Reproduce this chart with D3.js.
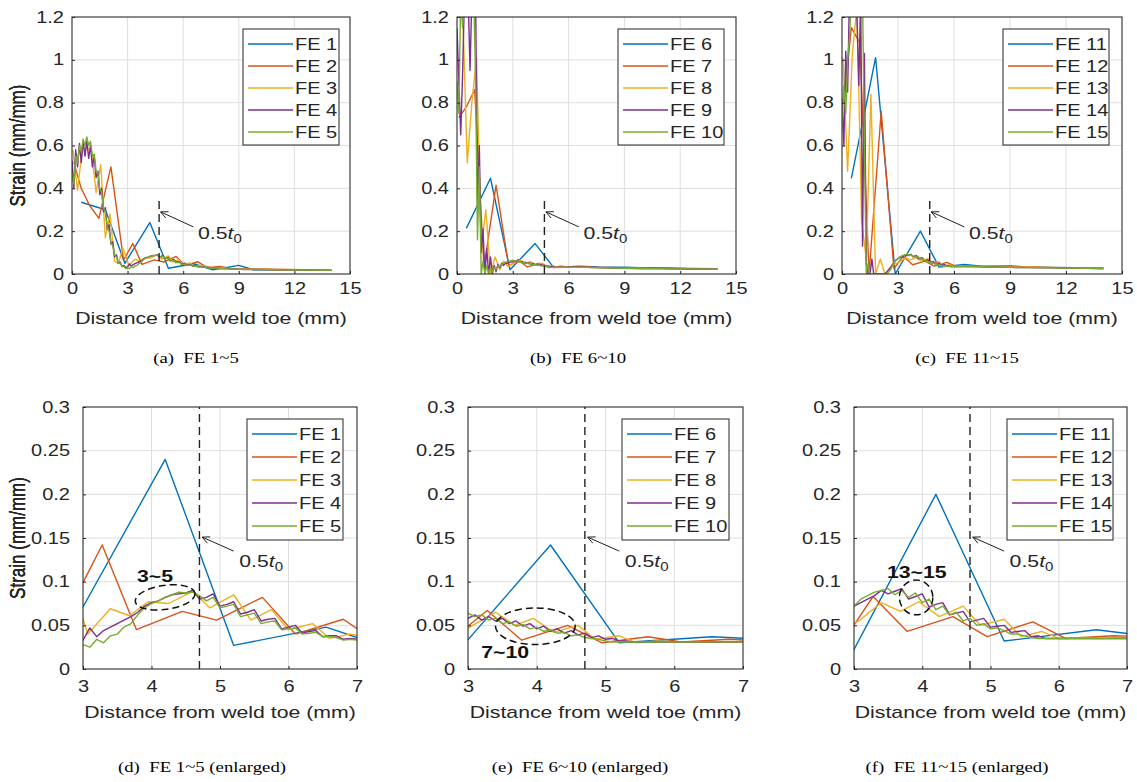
<!DOCTYPE html>
<meta charset="utf-8">
<script src="https://d3js.org/d3.v7.min.js"></script>
<style>
  body { margin: 0; background: #fff; }
  svg text { font-family: Arial, "Liberation Sans", sans-serif; }
</style>
<div id="my_dataviz"></div>
<script>

// ---------------- data ----------------
var feNamesA = ["FE 1", "FE 2", "FE 3", "FE 4", "FE 5"];
var feNamesB = ["FE 6", "FE 7", "FE 8", "FE 9", "FE 10"];
var feNamesC = ["FE 11", "FE 12", "FE 13", "FE 14", "FE 15"];

var xTicksFull = [0, 3, 6, 9, 12, 15];
var yTicksFull = [0, 0.2, 0.4, 0.6, 0.8, 1, 1.2];
var xTicksZoom = [3, 4, 5, 6, 7];
var yTicksZoom = [0, 0.05, 0.1, 0.15, 0.2, 0.25, 0.3];

// node positions (mm) of the four meshes
var meshA = [0.5, 1.8, 2.85, 4.2, 5.2, 6.55, 7.6, 9.0, 9.8, 11.3, 12.5, 14.0];
var meshB = [0.1, 0.5, 0.95, 1.45, 2.1, 2.78, 3.28, 3.78, 4.45, 4.95, 5.62, 6.1, 6.8, 7.3, 8.0, 8.6, 9.5, 10.5, 11.5, 12.5, 14.0];
var meshC = [0.05, 0.3, 0.55, 0.8, 1.05, 1.3, 1.55, 1.8, 2.05, 2.3, 2.5, 2.75, 3.07, 3.4, 3.68,
             3.95, 4.25, 4.6, 4.85, 5.2, 5.45, 5.75, 6.0, 6.35, 6.6, 6.9, 7.2, 7.6, 8.0, 8.5,
             9.0, 10.0, 11.0, 12.0, 13.0, 14.0];
var meshD = [0, 0.1, 0.2, 0.3, 0.4, 0.5, 0.6, 0.7, 0.8, 0.9,
             1, 1.1, 1.2, 1.3, 1.4, 1.5, 1.6, 1.7, 1.8, 1.9,
             2, 2.1, 2.2, 2.3, 2.4, 2.5, 2.6, 2.7, 2.8, 2.9,
             3, 3.1, 3.2, 3.3, 3.4, 3.5, 3.6, 3.7, 3.8, 3.9,
             4, 4.1, 4.2, 4.3, 4.4, 4.5, 4.6, 4.7, 4.8, 4.9,
             5, 5.1, 5.2, 5.3, 5.4, 5.5, 5.6, 5.7, 5.8, 5.9,
             6, 6.1, 6.2, 6.3, 6.4, 6.5, 6.6, 6.7, 6.8, 6.9,
             7, 7.5, 8, 8.5, 9, 10, 11, 12, 13, 14];

// strain (mm/mm)
var fe1 = [0.335, 0.30, 0.05, 0.24, 0.027, 0.048, 0.02, 0.04, 0.02, 0.02, 0.019, 0.018];
var fe6 = [0.213, 0.447, 0.02, 0.142, 0.03, 0.037, 0.033, 0.032, 0.03, 0.028, 0.026, 0.025];
var fe11 = [0.447, 1.01, 0.0, 0.2, 0.032, 0.045, 0.035, 0.038, 0.033, 0.031, 0.03, 0.028];

var fe2 = [0.52, 0.40, 0.32, 0.26, 0.50, 0.065, 0.142, 0.045, 0.066, 0.056, 0.082, 0.040, 0.057, 0.030, 0.035, 0.025, 0.024, 0.022, 0.021, 0.020, 0.018];
var fe7 = [0.73, 0.78, 0.86, 0.03, 0.415, 0.035, 0.067, 0.033, 0.050, 0.030, 0.037, 0.031, 0.034, 0.032, 0.031, 0.030, 0.029, 0.027, 0.026, 0.025, 0.023];
var fe12 = [0.80, 1.15, 1.08, 0.0, 0.76, 0.025, 0.083, 0.043, 0.060, 0.037, 0.054, 0.035, 0.038, 0.037, 0.036, 0.035, 0.034, 0.032, 0.030, 0.028, 0.026];

var fe3 = [0.58, 0.39, 0.58, 0.59, 0.58, 0.38, 0.51, 0.17, 0.28, 0.06, 0.05, 0.12, 0.04, 0.069, 0.061,
           0.077, 0.075, 0.089, 0.07, 0.085, 0.056, 0.068, 0.045, 0.052, 0.035, 0.04, 0.036, 0.03, 0.028, 0.025,
           0.024, 0.022, 0.021, 0.02, 0.019, 0.018];
var fe8 = [1.3, 1.25, 0.52, 0.8, 1.01, 0.12, 0.30, 0.0, 0.08, 0.02, 0.06, 0.035, 0.05, 0.065, 0.05,
           0.058, 0.042, 0.05, 0.034, 0.038, 0.03, 0.032, 0.031, 0.031, 0.031, 0.031, 0.03, 0.03, 0.029, 0.028,
           0.027, 0.026, 0.025, 0.024, 0.023, 0.022];
var fe13 = [1.01, 0.48, 1.02, 1.25, 0.25, 0.07, 0.84, 0.0, 0.07, 0.0, 0.02, 0.045, 0.055, 0.076, 0.066,
            0.077, 0.06, 0.072, 0.05, 0.057, 0.037, 0.043, 0.035, 0.036, 0.035, 0.036, 0.035, 0.035, 0.034, 0.034,
            0.033, 0.032, 0.031, 0.03, 0.029, 0.028];

var fe4 = [0.53, 0.40, 0.58, 0.50, 0.61, 0.52, 0.62, 0.55, 0.62, 0.54,
           0.60, 0.50, 0.55, 0.45, 0.48, 0.37, 0.40, 0.29, 0.31, 0.21,
           0.23, 0.14, 0.15, 0.08, 0.09, 0.05, 0.055, 0.035, 0.04, 0.03,
           0.033, 0.047, 0.037, 0.044, 0.048, 0.052, 0.056, 0.06, 0.065, 0.072,
           0.076, 0.078, 0.082, 0.085, 0.086, 0.087, 0.09, 0.08, 0.082, 0.086,
           0.072, 0.074, 0.077, 0.063, 0.065, 0.068, 0.055, 0.057, 0.058, 0.046,
           0.048, 0.05, 0.041, 0.043, 0.044, 0.037, 0.038, 0.038, 0.034, 0.035,
           0.034, 0.03, 0.026, 0.024, 0.022, 0.021, 0.02, 0.019, 0.018, 0.017];
var fe5 = [0.47, 0.42, 0.55, 0.52, 0.60, 0.57, 0.63, 0.60, 0.64, 0.60,
           0.62, 0.55, 0.56, 0.48, 0.47, 0.40, 0.38, 0.31, 0.29, 0.22,
           0.20, 0.15, 0.13, 0.09, 0.08, 0.05, 0.05, 0.035, 0.035, 0.025,
           0.028, 0.025, 0.034, 0.030, 0.038, 0.040, 0.048, 0.052, 0.062, 0.070,
           0.075, 0.078, 0.082, 0.085, 0.088, 0.087, 0.088, 0.084, 0.078, 0.082,
           0.070, 0.072, 0.074, 0.060, 0.062, 0.064, 0.052, 0.054, 0.055, 0.045,
           0.046, 0.047, 0.040, 0.041, 0.042, 0.037, 0.037, 0.036, 0.033, 0.034,
           0.033, 0.029, 0.026, 0.024, 0.022, 0.021, 0.02, 0.019, 0.018, 0.017];
var fe9 = [1.15, 0.9, 0.65, 0.93, 1.3, 1.3, 1.3, 0.95, 1.3, 1.3,
           1.3, 0.33, 0.6, 0.1, 0.21, 0.0, 0.12, 0.0, 0.08, 0.0,
           0.04, 0.01, 0.045, 0.03, 0.05, 0.04, 0.05, 0.05, 0.055, 0.056,
           0.058, 0.062, 0.056, 0.060, 0.055, 0.058, 0.052, 0.055, 0.049, 0.052,
           0.046, 0.049, 0.043, 0.046, 0.041, 0.044, 0.039, 0.041, 0.036, 0.038,
           0.034, 0.035, 0.032, 0.032, 0.031, 0.031, 0.031, 0.031, 0.031, 0.031,
           0.031, 0.031, 0.031, 0.031, 0.031, 0.031, 0.031, 0.031, 0.031, 0.031,
           0.031, 0.03, 0.029, 0.028, 0.027, 0.026, 0.025, 0.024, 0.023, 0.022];
var fe10 = [0.9, 0.75, 1.3, 1.15, 1.3, 1.3, 1.3, 1.3, 1.3, 1.3,
            0.9, 0.16, 0.5, 0.0, 0.06, 0.0, 0.04, 0.0, 0.03, 0.01,
            0.03, 0.02, 0.04, 0.035, 0.045, 0.05, 0.055, 0.058, 0.06, 0.062,
            0.064, 0.060, 0.062, 0.056, 0.058, 0.052, 0.054, 0.049, 0.051, 0.046,
            0.048, 0.043, 0.045, 0.041, 0.042, 0.038, 0.039, 0.036, 0.035, 0.034,
            0.032, 0.031, 0.031, 0.031, 0.031, 0.031, 0.031, 0.031, 0.031, 0.031,
            0.031, 0.031, 0.031, 0.031, 0.031, 0.031, 0.031, 0.031, 0.031, 0.031,
            0.031, 0.03, 0.029, 0.028, 0.027, 0.026, 0.025, 0.024, 0.023, 0.022];
var fe14 = [0.82, 0.6, 1.04, 0.85, 1.3, 1.3, 1.3, 1.3, 1.2, 0.88,
            1.3, 0.13, 1.03, 0.05, 0.0, 0.0, 0.07, 0.0, 0.0, 0.0,
            0.0, 0.0, 0.0, 0.0, 0.01, 0.02, 0.03, 0.045, 0.055, 0.065,
            0.072, 0.076, 0.080, 0.084, 0.090, 0.086, 0.089, 0.092, 0.080, 0.083,
            0.086, 0.071, 0.074, 0.076, 0.062, 0.064, 0.066, 0.054, 0.056, 0.058,
            0.048, 0.049, 0.050, 0.042, 0.043, 0.044, 0.037, 0.038, 0.035, 0.035,
            0.035, 0.035, 0.035, 0.035, 0.035, 0.035, 0.035, 0.035, 0.035, 0.035,
            0.035, 0.034, 0.033, 0.032, 0.031, 0.03, 0.029, 0.028, 0.027, 0.026];
var fe15 = [0.7, 0.88, 0.75, 1.0, 1.1, 1.3, 1.3, 1.3, 1.3, 1.3,
            1.3, 1.3, 0.6, 0.0, 0.05, 0.0, 0.0, 0.0, 0.0, 0.0,
            0.0, 0.0, 0.0, 0.0, 0.0, 0.01, 0.02, 0.04, 0.055, 0.065,
            0.072, 0.080, 0.084, 0.088, 0.090, 0.092, 0.085, 0.090, 0.082, 0.087,
            0.076, 0.080, 0.068, 0.072, 0.062, 0.065, 0.055, 0.058, 0.050, 0.052,
            0.046, 0.047, 0.044, 0.040, 0.040, 0.038, 0.036, 0.035, 0.035, 0.035,
            0.035, 0.035, 0.035, 0.035, 0.035, 0.035, 0.035, 0.035, 0.035, 0.035,
            0.035, 0.034, 0.033, 0.032, 0.031, 0.03, 0.029, 0.028, 0.027, 0.026];

// 0.5 t0 position and the annotations of the enlarged plots
var halfT0 = 4.7;
var zoomNotes = ["3~5", "7~10", "13~15"];
var zoomNoteXY = [[4.05, 0.106], [3.54, 0.019], [3.92, 0.111]];
var zoomEllipse = [[4.2, 0.082, 0.44, 0.0138, -8], [3.98, 0.049, 0.58, 0.021, 0], [3.91, 0.082, 0.245, 0.0200, 0]];
var captions = ["(a)  FE 1~5", "(b)  FE 6~10", "(c)  FE 11~15",
                "(d)  FE 1~5 (enlarged)", "(e)  FE 6~10 (enlarged)", "(f)  FE 11~15 (enlarged)"];

// ---------------- layout ----------------
var colors = ["#0072BD", "#D95319", "#EDB120", "#7E2F8E", "#77AC30"];
var sx = 1.25;   // the source figure's lettering is stretched sideways
var ink = "#262626";

var groups = [
  {names: feNamesA, xs: [meshA, meshB, meshC, meshD, meshD], ys: [fe1, fe2, fe3, fe4, fe5]},
  {names: feNamesB, xs: [meshA, meshB, meshC, meshD, meshD], ys: [fe6, fe7, fe8, fe9, fe10]},
  {names: feNamesC, xs: [meshA, meshB, meshC, meshD, meshD], ys: [fe11, fe12, fe13, fe14, fe15]}
];

var panels = [
  {g: 0, zoom: false, left: 72, right: 350, top: 17, bottom: 274, legW: 96, legR: 11, capX: 196, capY: 358},
  {g: 1, zoom: false, left: 457, right: 736, top: 17, bottom: 274, legW: 106, legR: 12, capX: 578, capY: 358},
  {g: 2, zoom: false, left: 842, right: 1122, top: 17, bottom: 274, legW: 106, legR: 13, capX: 967, capY: 358},
  {g: 0, zoom: true, left: 83, right: 357, top: 407, bottom: 669, legW: 96, legR: 14, capX: 202, capY: 767},
  {g: 1, zoom: true, left: 468, right: 743, top: 407, bottom: 669, legW: 107, legR: 14, capX: 580, capY: 767},
  {g: 2, zoom: true, left: 854, right: 1127, top: 407, bottom: 669, legW: 106, legR: 14, capX: 957, capY: 767}
];

var svg = d3.select("#my_dataviz")
  .append("svg")
    .attr("width", 1137)
    .attr("height", 782);

svg.append("rect").attr("width", 1137).attr("height", 782).attr("fill", "#fff");

// stretched text helper
function label(parent, px, py, txt, size, anchor, rot) {
  var t = parent.append("g")
    .attr("transform", "translate(" + px + "," + py + ") scale(" + sx + ",1)" + (rot ? " rotate(" + rot + ")" : ""))
    .append("text")
      .attr("text-anchor", anchor || "middle")
      .attr("dy", "0.35em")
      .attr("font-size", size)
      .attr("fill", ink)
      .style("white-space", "pre")
      .text(txt);
  return t;
}

var fmt = d3.format("~g");

panels.forEach(function(p, i) {
  var grp = groups[p.g];
  var x = d3.scaleLinear().domain(p.zoom ? [3, 7] : [0, 15]).range([p.left, p.right]);
  var y = d3.scaleLinear().domain(p.zoom ? [0, 0.3] : [0, 1.2]).range([p.bottom, p.top]);
  var xt = p.zoom ? xTicksZoom : xTicksFull;
  var yt = p.zoom ? yTicksZoom : yTicksFull;
  var g = svg.append("g");

  g.append("clipPath").attr("id", "clip" + i)
    .append("rect")
      .attr("x", p.left).attr("y", p.top)
      .attr("width", p.right - p.left).attr("height", p.bottom - p.top);

  // grid
  g.append("g").selectAll("line").data(xt).enter().append("line")
    .attr("x1", function(d) { return x(d); }).attr("x2", function(d) { return x(d); })
    .attr("y1", p.top).attr("y2", p.bottom)
    .attr("stroke", "#dedede").attr("stroke-width", 1);
  g.append("g").selectAll("line").data(yt).enter().append("line")
    .attr("y1", function(d) { return y(d); }).attr("y2", function(d) { return y(d); })
    .attr("x1", p.left).attr("x2", p.right)
    .attr("stroke", "#dedede").attr("stroke-width", 1);

  // curves
  var line = d3.line()
    .x(function(d) { return x(d[0]); })
    .y(function(d) { return y(d[1]); });
  grp.ys.forEach(function(ys, k) {
    var pts = grp.xs[k].map(function(xv, j) { return [xv, ys[j]]; });
    g.append("path")
      .datum(pts)
      .attr("d", line)
      .attr("clip-path", "url(#clip" + i + ")")
      .attr("fill", "none")
      .attr("stroke", colors[k])
      .attr("stroke-width", 1.4)
      .attr("stroke-linejoin", "round");
  });

  // 0.5 t0 dashed marker
  g.append("line")
    .attr("x1", x(halfT0)).attr("x2", x(halfT0))
    .attr("y1", y(0)).attr("y2", p.zoom ? y(0.3) : y(0.35))
    .attr("stroke", "#222").attr("stroke-width", 1.4)
    .attr("stroke-dasharray", "8,5");

  // axes
  var xa = g.append("g")
    .attr("transform", "translate(0," + p.bottom + ")")
    .call(d3.axisBottom(x).tickValues(xt).tickFormat(fmt)
      .tickSizeInner(-3).tickSizeOuter(0).tickPadding(p.zoom ? 12 : 9));
  var ya = g.append("g")
    .attr("transform", "translate(" + p.left + ",0)")
    .call(d3.axisLeft(y).tickValues(yt).tickFormat(fmt)
      .tickSizeInner(-3).tickSizeOuter(0).tickPadding((p.zoom ? 13 : 8) / sx));
  [xa, ya].forEach(function(a) {
    a.select(".domain").remove();
    a.selectAll(".tick line").attr("stroke", ink);
    a.selectAll(".tick text")
      .attr("font-size", 16)
      .attr("fill", ink)
      .attr("transform", "scale(" + sx + ",1)");
  });
  g.append("rect")
    .attr("x", p.left).attr("y", p.top)
    .attr("width", p.right - p.left).attr("height", p.bottom - p.top)
    .attr("fill", "none").attr("stroke", ink).attr("stroke-width", 1);

  // axis titles
  label(g, (p.left + p.right) / 2, p.zoom ? 712 : 318, "Distance from weld toe (mm)", 17);
  label(g, 18, (p.top + p.bottom) / 2, "Strain (mm/mm)", 17, "middle", -90);

  // legend
  var rowH = p.zoom ? 23 : 22;
  var lx = p.right - p.legR - p.legW, ly = p.top + 12;
  var leg = g.append("g").attr("transform", "translate(" + lx + "," + ly + ")");
  leg.append("rect")
    .attr("width", p.legW).attr("height", rowH * 5 + 6)
    .attr("fill", "#fff").attr("stroke", ink).attr("stroke-width", 1);
  grp.names.forEach(function(n, k) {
    var ry = 15 + k * rowH;
    leg.append("line")
      .attr("x1", 5).attr("x2", 50).attr("y1", ry).attr("y2", ry)
      .attr("stroke", colors[k]).attr("stroke-width", 1.4);
    label(leg, 52, ry, n, 16, "start");
  });

  // arrow + 0.5t0 text
  var head = p.zoom ? [4.74, 0.151] : [4.78, 0.29];
  var tail = p.zoom ? [5.2, 0.135] : [6.55, 0.22];
  var hx = x(head[0]), hy = y(head[1]), tx = x(tail[0]), ty = y(tail[1]);
  var ang = Math.atan2(ty - hy, tx - hx);
  g.append("line").attr("x1", hx).attr("y1", hy).attr("x2", tx).attr("y2", ty)
    .attr("stroke", "#222").attr("stroke-width", 1);
  g.append("path")
    .attr("d", d3.line()([
      [hx + 8 * Math.cos(ang + 0.45), hy + 8 * Math.sin(ang + 0.45)],
      [hx, hy],
      [hx + 8 * Math.cos(ang - 0.45), hy + 8 * Math.sin(ang - 0.45)]
    ]))
    .attr("fill", "none").attr("stroke", "#222").attr("stroke-width", 1);
  var tpos = p.zoom ? [5.28, 0.117] : [6.8, 0.162];
  var tt = g.append("g")
    .attr("transform", "translate(" + x(tpos[0]) + "," + y(tpos[1]) + ") scale(" + sx + ",1)")
    .append("text").attr("font-size", 17).attr("fill", ink);
  tt.append("tspan").text("0.5");
  tt.append("tspan").attr("font-style", "italic").text("t");
  tt.append("tspan").attr("font-size", 12).attr("dy", 4).text("0");

  // group annotation on enlarged plots
  if (p.zoom) {
    var e = zoomEllipse[p.g];
    g.append("ellipse")
      .attr("cx", x(e[0])).attr("cy", y(e[1]))
      .attr("rx", x(e[0] + e[2]) - x(e[0]))
      .attr("ry", y(e[1]) - y(e[1] + e[3]))
      .attr("transform", "rotate(" + e[4] + "," + x(e[0]) + "," + y(e[1]) + ")")
      .attr("fill", "none").attr("stroke", "#111").attr("stroke-width", 1.5)
      .attr("stroke-dasharray", "7,4");
    label(g, x(zoomNoteXY[p.g][0]), y(zoomNoteXY[p.g][1]), zoomNotes[p.g], 17)
      .attr("font-weight", "bold").attr("fill", "#111");
  }

  // caption (serif)
  label(g, p.capX, p.capY, captions[i], 15)
    .style("font-family", "'Times New Roman', 'Liberation Serif', serif")
    .attr("fill", "#000");
});

</script>
